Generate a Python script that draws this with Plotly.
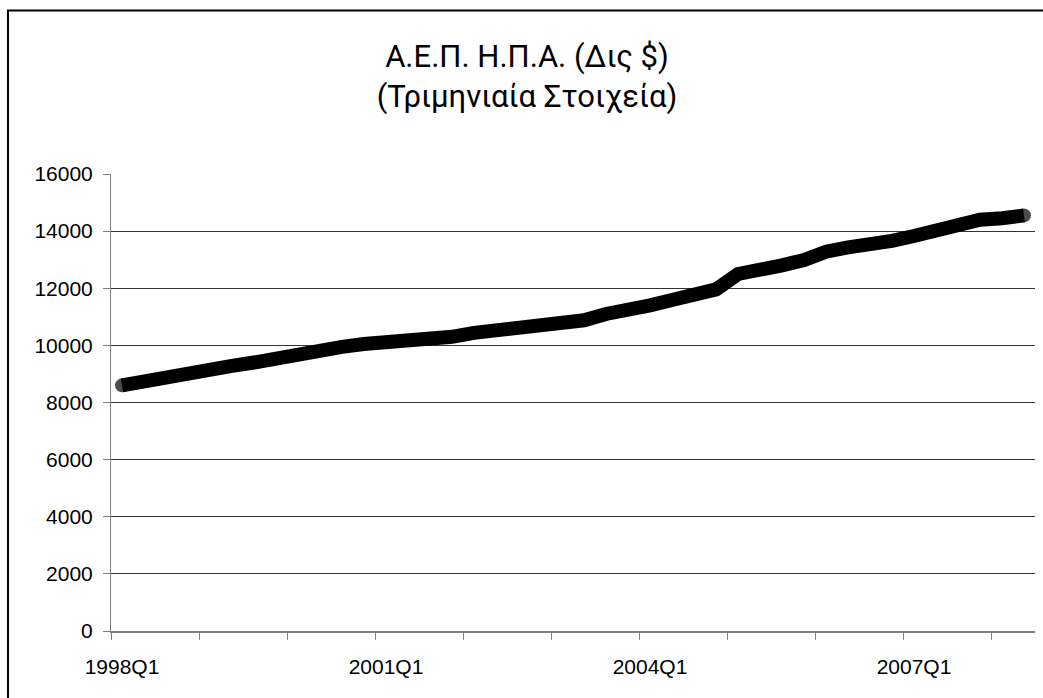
import plotly.graph_objects as go

# quarterly US GDP, billions of $
quarters = [f"{y}Q{q}" for y in range(1998, 2009) for q in range(1, 5)][:42]
gdp = [8600, 8750, 8900, 9080, 9180, 9280, 9400, 9550,
       9700, 9900, 9950, 10050, 10100, 10160, 10190, 10300,
       10440, 10530, 10610, 10700, 10780, 10880, 11100, 11220,
       11400, 11590, 11780, 11960, 12500, 12610, 12800, 12990,
       13280, 13430, 13510, 13660, 13830, 14050, 14250, 14400,
       14450, 14550]
label_quarters = ["1998Q1", "2001Q1", "2004Q1", "2007Q1"]
y_ticks = list(range(0, 16001, 2000))

W, H = 1043, 698
ML, MR, MT, MB = 111, 8, 174, 67
pw, ph = W - ML - MR, H - MT - MB

xs = list(range(len(quarters)))
# round caps only at both ends of the line
cap_sizes = [14] + [0] * (len(quarters) - 2) + [14]

fig = go.Figure()
fig.add_trace(go.Scatter(
    x=xs, y=gdp, mode="lines+markers",
    line=dict(color="black", width=14),
    marker=dict(color="black", size=cap_sizes, line=dict(width=0)),
    hoverinfo="skip", showlegend=False,
))

fig.update_xaxes(
    range=[-0.5, len(quarters) - 0.5],
    tickmode="array",
    tickvals=[quarters.index(q) for q in label_quarters],
    ticktext=label_quarters,
    ticks="",
    showgrid=False, zeroline=False,
    showline=True, linecolor="#808080", linewidth=2,
    tickfont=dict(family="Liberation Sans, Arial", size=21, color="black"),
    ticklabelstandoff=16,
    automargin=False,
    minor=dict(tickmode="array", tickvals=[i - 0.5 for i in range(0, len(quarters), 4)],
               ticks="outside", ticklen=7, tickcolor="#808080", tickwidth=1, showgrid=False),
)
fig.update_yaxes(
    range=[0, 16000],
    tickmode="array", tickvals=y_ticks, tickformat="d",
    ticks="outside", ticklen=7, tickcolor="#808080",
    showgrid=True, gridcolor="#333333", gridwidth=1,
    zeroline=False,
    showline=True, linecolor="#808080", linewidth=1,
    tickfont=dict(family="Liberation Sans, Arial", size=21, color="black"),
    ticklabelstandoff=6,
    automargin=False,
)

# outer frame of the chart
fig.add_shape(type="rect", xref="paper", yref="paper",
              x0=(8 - ML) / pw, x1=(W + 5 - ML) / pw,
              y0=(H - MB - (H + 5)) / ph, y1=(H - MB - 10.5) / ph,
              line=dict(color="black", width=2), fillcolor="rgba(0,0,0,0)", layer="above")

fig.update_layout(
    width=W, height=H,
    margin=dict(l=ML, r=MR, t=MT, b=MB),
    paper_bgcolor="white", plot_bgcolor="white",
    title=dict(
        text="Α.Ε.Π. Η.Π.Α. (Δις $)<br>(Τριμηνιαία Στοιχεία)",
        font=dict(family="Roboto, Noto Sans", size=31, color="black"),
        x=(527 - ML) / pw, xref="paper", xanchor="center",
        y=1 - 67 / H, yref="container", yanchor="top",
    ),
)

fig.write_html("out.html", config={"displayModeBar": False},
               post_script="document.body.style.margin='0';")
